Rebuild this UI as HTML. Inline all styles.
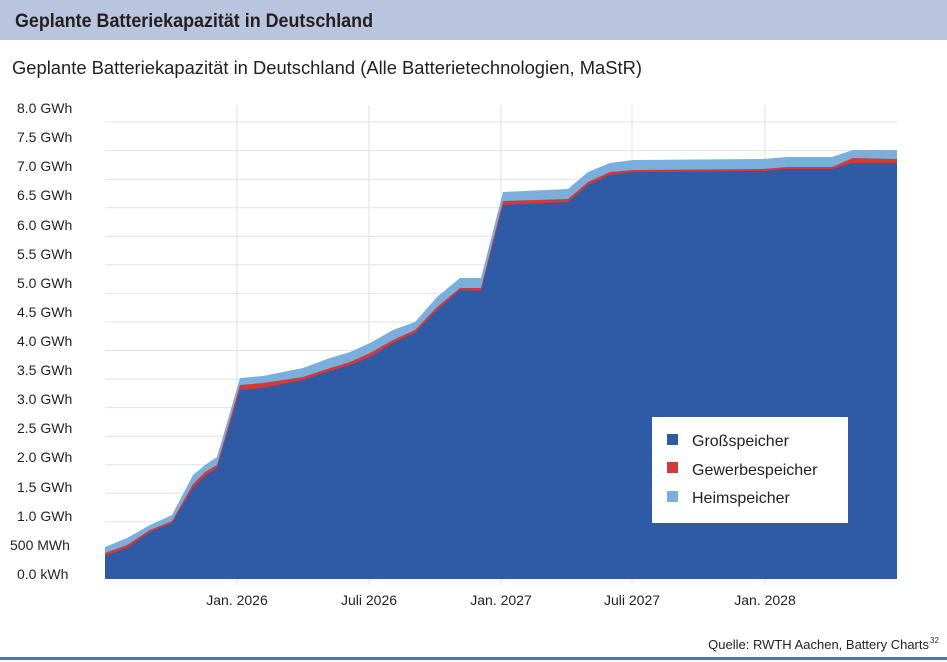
<!DOCTYPE html>
<html><head><meta charset="utf-8"><style>
html,body{margin:0;padding:0;background:#fff;}
svg{display:block;font-family:"Liberation Sans",sans-serif;}
</style></head><body>
<svg width="947" height="662" viewBox="0 0 947 662" xmlns="http://www.w3.org/2000/svg">
<rect x="0" y="0" width="947" height="40" fill="#b9c5de"/>
<text x="15" y="27" font-size="19" font-weight="bold" fill="#231f20" textLength="358" lengthAdjust="spacingAndGlyphs">Geplante Batteriekapazität in Deutschland</text>
<text x="12" y="74" font-size="18" fill="#231f20" textLength="630" lengthAdjust="spacingAndGlyphs">Geplante Batteriekapazität in Deutschland (Alle Batterietechnologien, MaStR)</text>
<g stroke="#e2e2e2" stroke-width="1">
<line x1="105" x2="897" y1="550.4" y2="550.4"/><line x1="105" x2="897" y1="521.9" y2="521.9"/>
<line x1="105" x2="897" y1="493.3" y2="493.3"/><line x1="105" x2="897" y1="464.8" y2="464.8"/>
<line x1="105" x2="897" y1="436.2" y2="436.2"/><line x1="105" x2="897" y1="407.6" y2="407.6"/>
<line x1="105" x2="897" y1="379.1" y2="379.1"/><line x1="105" x2="897" y1="350.5" y2="350.5"/>
<line x1="105" x2="897" y1="322" y2="322"/><line x1="105" x2="897" y1="293.4" y2="293.4"/>
<line x1="105" x2="897" y1="264.8" y2="264.8"/><line x1="105" x2="897" y1="236.3" y2="236.3"/>
<line x1="105" x2="897" y1="207.7" y2="207.7"/><line x1="105" x2="897" y1="179.2" y2="179.2"/>
<line x1="105" x2="897" y1="150.6" y2="150.6"/><line x1="105" x2="897" y1="122" y2="122"/>
<line x1="237" x2="237" y1="105" y2="585"/><line x1="369" x2="369" y1="105" y2="585"/>
<line x1="501" x2="501" y1="105" y2="585"/><line x1="632" x2="632" y1="105" y2="585"/>
<line x1="765" x2="765" y1="105" y2="585"/>
</g>
<path fill="#7aaedc" d="M105,579 L105,547 127,538 150,525 172,515 193,475 205,465 217,457 240,378 263,376 283,372 303,368 327,359 350,352 370,343 393,330 415,322 437,297 460,278 481,278 503,192 568,189 588,172 610,163 633,160 763,159 787,157 832,157 853,150 897,150 L897,579 Z"/>
<path fill="#d23a3a" d="M105,579 L105,553 127,545 150,530 172,521 193,484 205,472 217,465 240,385 263,383 283,380 303,377 327,369 350,362 370,353 393,340 415,330 437,307 460,288 481,288 503,201 568,199 588,182 610,172 633,170 763,169 787,167 832,167 853,158 897,159 L897,579 Z"/>
<path fill="#2e5aa6" d="M105,579 L105,556 127,548 150,532 172,523 193,488 205,476 217,468 240,390 263,388 283,384 303,380 327,372 350,365 370,357 393,343 415,333 437,310 460,290 481,291 503,205 568,202 588,185 610,175 633,172 763,171 787,169 832,169 853,163 897,163 L897,579 Z"/>
<g font-size="14" fill="#231f20">
<text x="17" y="113">8.0 GWh</text><text x="17" y="142">7.5 GWh</text><text x="17" y="171">7.0 GWh</text>
<text x="17" y="200">6.5 GWh</text><text x="17" y="230">6.0 GWh</text><text x="17" y="259">5.5 GWh</text>
<text x="17" y="288">5.0 GWh</text><text x="17" y="317">4.5 GWh</text><text x="17" y="346">4.0 GWh</text>
<text x="17" y="375">3.5 GWh</text><text x="17" y="404">3.0 GWh</text><text x="17" y="433">2.5 GWh</text>
<text x="17" y="462">2.0 GWh</text><text x="17" y="492">1.5 GWh</text><text x="17" y="521">1.0 GWh</text>
<text x="10" y="550">500 MWh</text><text x="17" y="579">0.0 kWh</text>
</g>
<g font-size="14" fill="#231f20" text-anchor="middle">
<text x="237" y="605">Jan. 2026</text><text x="369" y="605">Juli 2026</text><text x="501" y="605">Jan. 2027</text>
<text x="632" y="605">Juli 2027</text><text x="765" y="605">Jan. 2028</text>
</g>
<rect x="652" y="417" width="196" height="106" fill="#fff"/>
<rect x="667" y="434" width="11" height="11" fill="#2e5aa6"/>
<rect x="667" y="462" width="11" height="11" fill="#d23a3a"/>
<rect x="667" y="491" width="11" height="11" fill="#7aaedc"/>
<g font-size="16" fill="#231f20">
<text x="692" y="446">Großspeicher</text>
<text x="692" y="475">Gewerbespeicher</text>
<text x="692" y="503">Heimspeicher</text>
</g>
<text x="929" y="649" font-size="13" fill="#231f20" text-anchor="end">Quelle: RWTH Aachen, Battery Charts</text>
<text x="930" y="643" font-size="8" fill="#231f20">32</text>
<rect x="0" y="657" width="947" height="3" fill="#4a78bb"/>
</svg>
</body></html>
